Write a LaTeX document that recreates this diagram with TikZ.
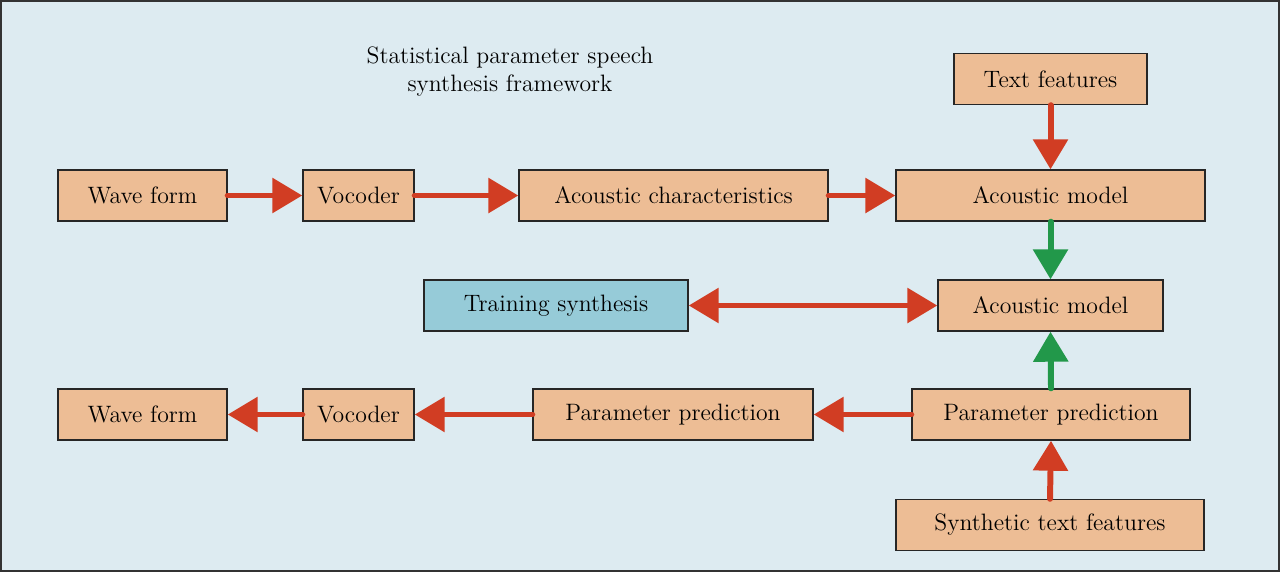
\documentclass[tikz,border=0pt]{standalone}
\usetikzlibrary{arrows.meta}
\definecolor{bgblue}{HTML}{DDEBF1}
\definecolor{boxtan}{HTML}{EDBD95}
\definecolor{boxcyan}{HTML}{96CBD8}
\definecolor{arrred}{HTML}{D13D23}
\definecolor{arrgreen}{HTML}{22984A}
\tikzset{
  box/.style={draw=black!85, thick, fill=boxtan, minimum height=1.02cm, inner sep=0pt, font=\fontsize{13.5}{16}\selectfont},
  flow/.style={line width=3.4pt, line cap=round, arrred, -{Triangle[length=0.6cm,width=0.68cm]}},
  both/.style={flow, {Triangle[length=0.6cm,width=0.68cm]}-{Triangle[length=0.6cm,width=0.68cm]}},
  up/.style={flow, arrgreen}
}
\begin{document}
\begin{tikzpicture}[x=0.02cm,y=-0.02cm]
    \draw[fill=bgblue, draw=black!80, thick] (1,1) rectangle (1279,571);
    \useasboundingbox (0,0) rectangle (1280,572);

    \node[align=center, font=\fontsize{13.5}{16}\selectfont] (title) at (510,72) {Statistical parameter speech\\synthesis framework};

    % training path
    \node[box, minimum width=3.38cm] (wave1) at (142.5,195.5) {Wave form};
    \node[box, minimum width=2.22cm] (voc1) at (358.5,195.5) {Vocoder};
    \node[box, minimum width=6.18cm] (acchar) at (673.5,195.5) {Acoustic characteristics};
    \node[box, minimum width=6.18cm] (acmod1) at (1050.5,195.5) {Acoustic model};
    \node[box, minimum width=3.86cm] (textf) at (1050.5,79) {Text features};

    % middle
    \node[box, minimum width=4.5cm] (acmod2) at (1050.5,305.5) {Acoustic model};
    \node[box, minimum width=5.28cm, fill=boxcyan] (train) at (556,305.5) {Training synthesis};

    % synthesis path
    \node[box, minimum width=3.38cm] (wave2) at (142.5,414.5) {Wave form};
    \node[box, minimum width=2.22cm] (voc2) at (358.5,414.5) {Vocoder};
    \node[box, minimum width=5.6cm] (pred1) at (673,414.5) {Parameter prediction};
    \node[box, minimum width=5.56cm] (pred2) at (1051,414.5) {Parameter prediction};
    \node[box, minimum width=6.16cm] (synf) at (1050,525) {Synthetic text features};

    \draw[flow] (wave1.east) -- (voc1.west);
    \draw[flow] (voc1.east) -- (acchar.west);
    \draw[flow] (acchar.east) -- (acmod1.west);
    \draw[flow] (textf.south) -- (acmod1.north);
    \draw[up] (acmod1.south) -- (acmod2.north);
    \draw[both] (train.east) -- (acmod2.west);
    \draw[up] (pred2.north) -- (acmod2.south);
    \draw[flow] (synf.north) -- (pred2.south);
    \draw[flow] (pred2.west) -- (pred1.east);
    \draw[flow] (pred1.west) -- (voc2.east);
    \draw[flow] (voc2.west) -- (wave2.east);
\end{tikzpicture}
\end{document}
